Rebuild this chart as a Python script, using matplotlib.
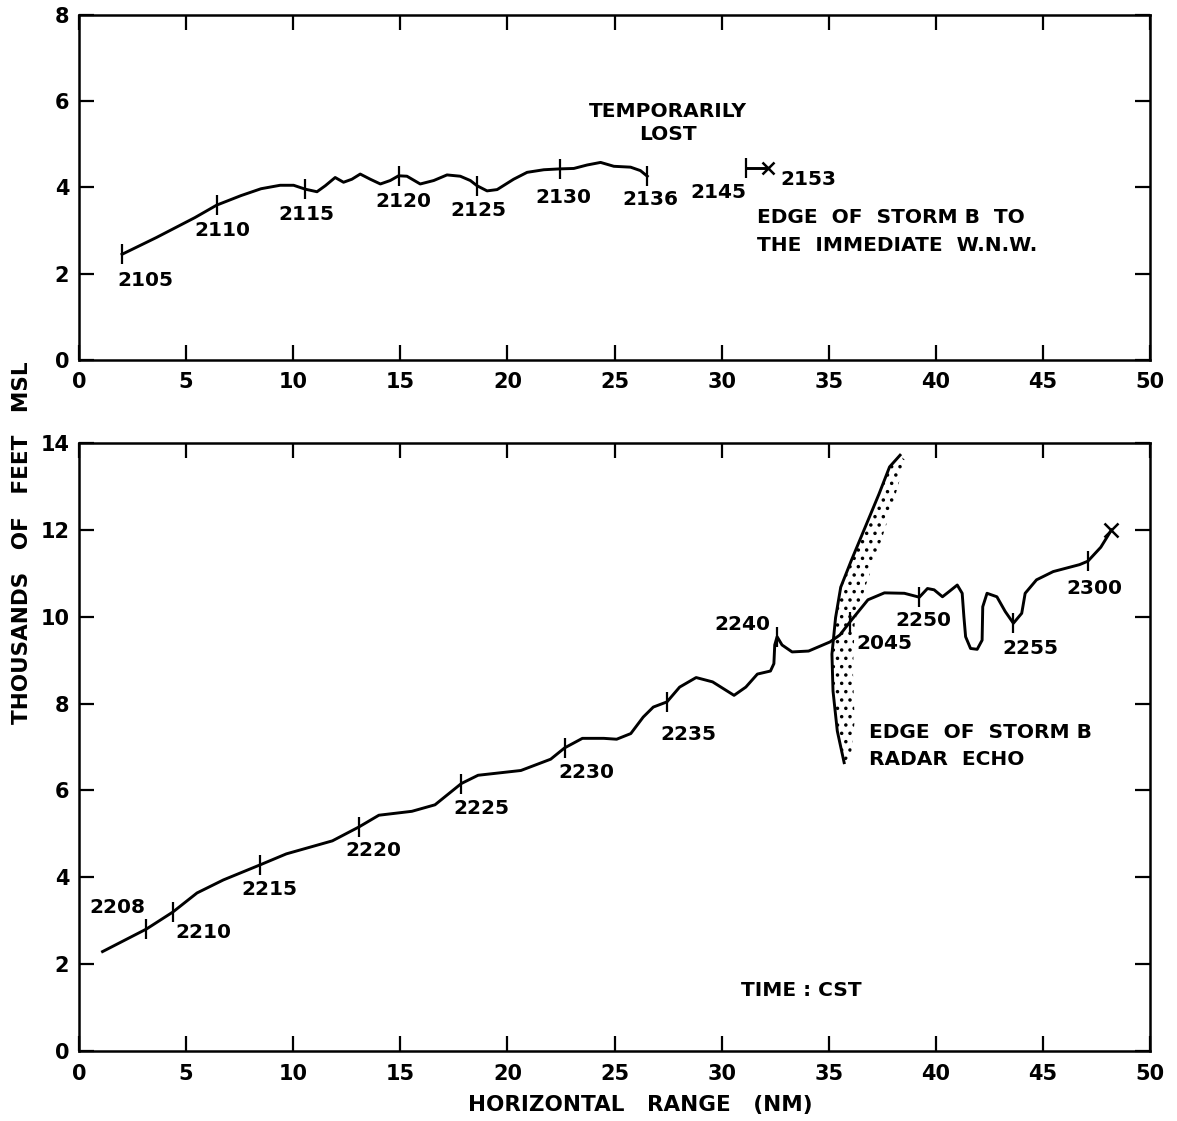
import numpy as np
import matplotlib
matplotlib.use("Agg")
import matplotlib.pyplot as plt

# ---------------- data ----------------
# Top panel flight track (2105-2136)
top_x = [2.01, 3.62, 5.41, 6.43, 7.56, 8.5, 9.39, 10.02, 10.56, 11.11, 11.5, 11.96, 12.35,
         12.74, 13.13, 13.6, 14.07, 14.53, 14.92, 15.31, 15.93, 16.56, 17.18, 17.8, 18.27,
         18.58, 19.05, 19.52, 20.29, 20.92, 21.7, 22.44, 23.1, 23.72, 24.35, 24.97, 25.75,
         26.21, 26.53]
top_y = [2.45, 2.84, 3.30, 3.59, 3.81, 3.97, 4.05, 4.05, 3.96, 3.90, 4.04, 4.23, 4.12,
         4.19, 4.31, 4.19, 4.08, 4.16, 4.27, 4.26, 4.08, 4.16, 4.29, 4.26, 4.16,
         4.04, 3.92, 3.95, 4.19, 4.35, 4.41, 4.43, 4.44, 4.52, 4.58, 4.49, 4.47,
         4.39, 4.26]
top_mark_x = [2.01, 6.43, 10.56, 14.92, 18.58, 22.44, 26.53]
top_mark_y = [2.45, 3.59, 3.96, 4.27, 4.04, 4.43, 4.26]
top_mark_lbl = ["2105", "2110", "2115", "2120", "2125", "2130", "2136"]
top_lbl_x = [3.08, 6.7, 10.6, 15.16, 18.64, 22.6, 26.69]
top_lbl_y = [1.84, 3.0, 3.38, 3.67, 3.46, 3.77, 3.71]

# 2145-2153 segment
seg_x = [31.12, 32.17]
seg_y = [4.45, 4.45]

# Bottom panel flight track (2208-2300)
bot_x = [1.1, 3.15, 4.38, 5.51, 6.74, 8.47, 9.68, 11.83, 13.07, 14.0, 15.54, 16.62, 17.85,
         18.63, 20.63, 22.02, 22.67, 23.5, 24.5, 25.1, 25.76, 26.34, 26.81, 27.45, 28.04,
         28.81, 29.58, 30.58, 31.13, 31.67, 32.28, 32.44, 32.48, 32.59, 32.82, 33.29, 34.06,
         35.06, 35.52, 35.99, 36.83, 37.6, 38.53, 39.23, 39.61, 39.92, 40.31, 40.62, 41.0,
         41.23, 41.31, 41.39, 41.62, 41.93, 42.16, 42.19, 42.39, 42.85, 43.24, 43.62, 44.01,
         44.17, 44.7, 45.48, 46.71, 47.1, 47.7, 48.2]
bot_y = [2.29, 2.81, 3.2, 3.64, 3.94, 4.29, 4.54, 4.84, 5.16, 5.43, 5.52, 5.67, 6.16,
         6.35, 6.46, 6.72, 6.98, 7.2, 7.2, 7.18, 7.31, 7.69, 7.92, 8.04, 8.38,
         8.6, 8.5, 8.19, 8.38, 8.68, 8.75, 8.92, 9.35, 9.54, 9.35, 9.19, 9.21,
         9.42, 9.58, 9.88, 10.39, 10.55, 10.54, 10.45, 10.65, 10.62, 10.46, 10.58, 10.73,
         10.54, 10.0, 9.54, 9.27, 9.25, 9.46, 10.23, 10.54, 10.46, 10.12, 9.85, 10.08,
         10.54, 10.85, 11.04, 11.2, 11.28, 11.6, 12.0]
bot_mark_x = [3.15, 4.38, 8.47, 13.07, 17.85, 22.67, 27.45, 32.59, 35.99, 39.23, 43.62, 47.1]
bot_mark_y = [2.81, 3.2, 4.29, 5.16, 6.16, 6.98, 8.04, 9.54, 9.88, 10.45, 9.85, 11.28]
bot_mark_lbl = ["2208", "2210", "2215", "2220", "2225", "2230", "2235", "2240", "2045",
                "2250", "2255", "2300"]
bot_lbl_x = [1.8, 5.82, 8.9, 13.76, 18.78, 23.7, 28.46, 30.97, 37.6, 39.4, 44.4, 47.4]
bot_lbl_y = [3.3, 2.72, 3.71, 4.62, 5.58, 6.41, 7.28, 9.81, 9.38, 9.92, 9.27, 10.65]

# Storm B radar echo edge
edge_x = [38.33, 37.84, 37.35, 36.7, 36.05, 35.56, 35.32, 35.15, 35.2, 35.4, 35.72]
edge_y = [13.72, 13.45, 12.83, 12.06, 11.29, 10.68, 9.98, 9.14, 8.29, 7.37, 6.64]
stip_x = [38.57, 38.0, 37.35, 36.7, 36.21, 36.13, 36.21, 36.05]
stip_y = [13.6, 12.6, 11.6, 10.68, 9.83, 8.75, 7.6, 6.83]

x_ticks = [0, 5, 10, 15, 20, 25, 30, 35, 40, 45, 50]
top_yticks = [0, 2, 4, 6, 8]
bot_yticks = [0, 2, 4, 6, 8, 10, 12, 14]

# ---------------- style ----------------
plt.rcParams['font.family'] = ['DejaVu Sans']
plt.rcParams['hatch.color'] = 'black'
plt.rcParams['hatch.linewidth'] = 1.3
FS_TICK = 15
FS_ANN = 14.5
FS_LAB = 15.5
LW = 2.1
MS_T = 14
fw = 'bold'

fig = plt.figure(figsize=(11.77, 11.21), dpi=100)
ax1 = fig.add_axes([0.0671, 0.6789, 0.91, 0.3078])
ax2 = fig.add_axes([0.0671, 0.0624, 0.91, 0.5424])


def style(ax, yticks, ymax):
    ax.set_xlim(0, 50)
    ax.set_ylim(0, ymax)
    ax.set_xticks(x_ticks)
    ax.set_yticks(yticks)
    ax.tick_params(direction='in', length=11, width=1.6, top=True, right=True,
                   labelsize=FS_TICK)
    ax.tick_params(axis='x', pad=9)
    ax.tick_params(axis='y', pad=7)
    for lab in ax.get_xticklabels() + ax.get_yticklabels():
        lab.set_fontweight(fw)
    for s in ax.spines.values():
        s.set_linewidth(1.8)


style(ax1, top_yticks, 8)
style(ax2, bot_yticks, 14)

# top panel
ax1.plot(top_x, top_y, color='black', lw=LW, solid_joinstyle='round')
ax1.plot(top_mark_x, top_mark_y, linestyle='none', marker='|', ms=MS_T, mew=1.6, color='black')
for t, lx, ly in zip(top_mark_lbl, top_lbl_x, top_lbl_y):
    ax1.text(lx, ly, t, ha='center', va='center', fontsize=FS_ANN, fontweight=fw)
ax1.plot(seg_x, seg_y, color='black', lw=LW)
ax1.plot(seg_x[:1], seg_y[:1], marker='|', ms=MS_T, mew=1.6, color='black')
ax1.plot(seg_x[1:], seg_y[1:], marker='x', ms=9, mew=1.8, color='black')
ax1.text(29.85, 3.88, "2145", ha='center', va='center', fontsize=FS_ANN, fontweight=fw)
ax1.text(32.75, 4.19, "2153", ha='left', va='center', fontsize=FS_ANN, fontweight=fw)
ax1.text(27.5, 5.5, "TEMPORARILY\nLOST", ha='center', va='center', fontsize=FS_ANN,
         fontweight=fw, linespacing=1.25)
ax1.text(31.63, 3.3, "EDGE  OF  STORM B  TO", ha='left', va='center', fontsize=FS_ANN,
         fontweight=fw)
ax1.text(31.63, 2.65, "THE  IMMEDIATE  W.N.W.", ha='left', va='center', fontsize=FS_ANN,
         fontweight=fw)

# bottom panel
ax2.fill(np.r_[edge_x, stip_x[::-1]], np.r_[edge_y, stip_y[::-1]], facecolor='none',
         edgecolor='black', linewidth=0, hatch='..')
ax2.plot(edge_x, edge_y, color='black', lw=LW, solid_joinstyle='round')
ax2.plot(bot_x, bot_y, color='black', lw=LW, solid_joinstyle='round')
ax2.plot(bot_mark_x, bot_mark_y, linestyle='none', marker='|', ms=MS_T, mew=1.6, color='black')
ax2.plot(bot_x[-1:], bot_y[-1:], marker='x', ms=10, mew=1.8, color='black')
for t, lx, ly in zip(bot_mark_lbl, bot_lbl_x, bot_lbl_y):
    ax2.text(lx, ly, t, ha='center', va='center', fontsize=FS_ANN, fontweight=fw)
ax2.text(36.87, 7.33, "EDGE  OF  STORM B", ha='left', va='center', fontsize=FS_ANN,
         fontweight=fw)
ax2.text(36.87, 6.72, "RADAR  ECHO", ha='left', va='center', fontsize=FS_ANN,
         fontweight=fw)
ax2.text(33.7, 1.4, "TIME : CST", ha='center', va='center', fontsize=FS_ANN, fontweight=fw)

fig.text(0.019, 0.516, "THOUSANDS   OF   FEET   MSL", rotation=90, ha='center',
         va='center', fontsize=FS_LAB, fontweight=fw)
fig.text(0.544, 0.014, "HORIZONTAL   RANGE   (NM)", ha='center', va='center',
         fontsize=FS_LAB, fontweight=fw)

fig.savefig("out.png", dpi=100)
